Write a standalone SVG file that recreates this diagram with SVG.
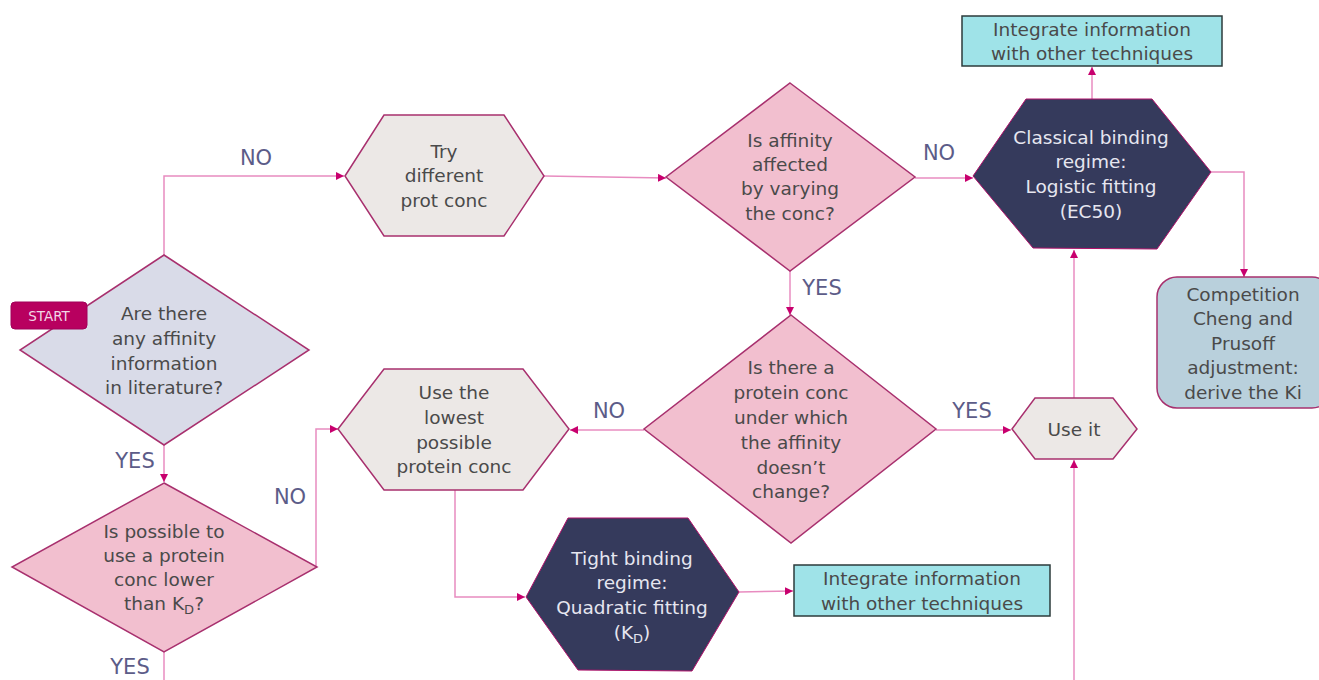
<svg xmlns="http://www.w3.org/2000/svg" width="1319" height="680" viewBox="0 0 1319 680">
  <style>
    .t { font-family: "DejaVu Sans", Verdana, sans-serif; font-size: 18.5px; fill: #4a4a4a; text-anchor: middle; }
    .tw { font-family: "DejaVu Sans", Verdana, sans-serif; font-size: 18.5px; fill: #e6e6f0; text-anchor: middle; }
    .lbl { font-family: "DejaVu Sans", Verdana, sans-serif; font-size: 21px; fill: #5c5c88; text-anchor: middle; }
    .conn { fill: none; stroke: #e88cc0; stroke-width: 1.5; }
    .dec-pink { fill: #f2bfcf; stroke: #a8306e; stroke-width: 1.5; }
    .dec-grey { fill: #d9dbe8; stroke: #a8306e; stroke-width: 1.5; }
    .proc { fill: #ece8e6; stroke: #a8306e; stroke-width: 1.5; }
    .dark { fill: #353a5c; stroke: #b0106a; stroke-width: 1; }
    .info { fill: #9fe3e8; stroke: #2d3b3b; stroke-width: 1.5; }
    .comp { fill: #b9d0dc; stroke: #a8306e; stroke-width: 1.5; }
  </style>
  <defs>
    <marker id="arr" viewBox="0 0 10 10" refX="10" refY="5" markerWidth="8" markerHeight="8" markerUnits="userSpaceOnUse" orient="auto">
      <path d="M0,0 L10,5 L0,10 Z" fill="#c8006e"/>
    </marker>
  </defs>

  <rect width="1319" height="680" fill="#ffffff"/>

  <!-- connectors -->
  <g id="connectors">
    <polyline class="conn" points="164,255 164,176 344,176" marker-end="url(#arr)"/>
    <polyline class="conn" points="544,176 666,178" marker-end="url(#arr)"/>
    <polyline class="conn" points="915,178 973,178" marker-end="url(#arr)"/>
    <polyline class="conn" points="1092,99 1092,67" marker-end="url(#arr)"/>
    <polyline class="conn" points="1211,172 1244,172 1244,277" marker-end="url(#arr)"/>
    <polyline class="conn" points="790,271 790,315" marker-end="url(#arr)"/>
    <polyline class="conn" points="936,430 1011,430" marker-end="url(#arr)"/>
    <polyline class="conn" points="1074,398 1074,250" marker-end="url(#arr)"/>
    <polyline class="conn" points="1074,680 1074,460" marker-end="url(#arr)"/>
    <polyline class="conn" points="644,430 570,430" marker-end="url(#arr)"/>
    <polyline class="conn" points="164,445 164,482" marker-end="url(#arr)"/>
    <polyline class="conn" points="316,568 316,429 338,429" marker-end="url(#arr)"/>
    <polyline class="conn" points="455,490 455,597 525,597" marker-end="url(#arr)"/>
    <polyline class="conn" points="739,592 793,591" marker-end="url(#arr)"/>
    <polyline class="conn" points="164,652 164,680"/>
    <text class="lbl" x="256" y="165">NO</text>
    <text class="lbl" x="939" y="160">NO</text>
    <text class="lbl" x="822" y="295">YES</text>
    <text class="lbl" x="609" y="418">NO</text>
    <text class="lbl" x="972" y="418">YES</text>
    <text class="lbl" x="135" y="468">YES</text>
    <text class="lbl" x="290" y="504">NO</text>
    <text class="lbl" x="130" y="674">YES</text>
  </g>

  <!-- literature question -->
  <g id="q-literature">
    <polygon class="dec-grey" points="164,255 309,350 164,445 20,350"/>
    <text class="t" x="164" y="320">Are there</text>
    <text class="t" x="164" y="345">any affinity</text>
    <text class="t" x="164" y="370">information</text>
    <text class="t" x="164" y="394">in literature?</text>
  </g>

  <g id="start">
    <rect x="11" y="302" width="76" height="27" rx="4" fill="#b8005f" stroke="#a0005a" stroke-width="1"/>
    <text x="49" y="321" font-family="'DejaVu Sans', Verdana, sans-serif" font-size="13.5" fill="#f2d8e6" text-anchor="middle">START</text>
  </g>

  <g id="try-conc">
    <polygon class="proc" points="345,176 384,115 504,115 544,176 504,236 384,236"/>
    <text class="t" x="444" y="158">Try</text>
    <text class="t" x="444" y="182">different</text>
    <text class="t" x="444" y="207">prot conc</text>
  </g>

  <g id="q-affected">
    <polygon class="dec-pink" points="790,83 915,177 790,271 666,177"/>
    <text class="t" x="790" y="147">Is affinity</text>
    <text class="t" x="790" y="171">affected</text>
    <text class="t" x="790" y="195">by varying</text>
    <text class="t" x="790" y="220">the conc?</text>
  </g>

  <g id="classical">
    <polygon class="dark" points="973,176 1026,99 1152,99 1211,172 1157,249 1033,248"/>
    <text class="tw" x="1091" y="144">Classical binding</text>
    <text class="tw" x="1091" y="168">regime:</text>
    <text class="tw" x="1091" y="193">Logistic fitting</text>
    <text class="tw" x="1091" y="218">(EC50)</text>
  </g>

  <g id="integrate-top">
    <rect class="info" x="962" y="16" width="260" height="50"/>
    <text class="t" x="1092" y="36">Integrate information</text>
    <text class="t" x="1092" y="60">with other techniques</text>
  </g>

  <g id="competition">
    <rect class="comp" x="1157" y="277" width="175" height="131" rx="20"/>
    <text class="t" x="1243" y="301">Competition</text>
    <text class="t" x="1243" y="325">Cheng and</text>
    <text class="t" x="1243" y="350">Prusoff</text>
    <text class="t" x="1243" y="374">adjustment:</text>
    <text class="t" x="1243" y="399">derive the Ki</text>
  </g>

  <g id="q-protein-conc">
    <polygon class="dec-pink" points="791,315 936,429 791,543 644,429"/>
    <text class="t" x="791" y="374">Is there a</text>
    <text class="t" x="791" y="399">protein conc</text>
    <text class="t" x="791" y="424">under which</text>
    <text class="t" x="791" y="449">the affinity</text>
    <text class="t" x="791" y="474">doesn’t</text>
    <text class="t" x="791" y="498">change?</text>
  </g>

  <g id="use-it">
    <polygon class="proc" points="1012,429 1035,398 1113,398 1137,429 1113,459 1035,459"/>
    <text class="t" x="1074" y="436">Use it</text>
  </g>

  <g id="lowest-conc">
    <polygon class="proc" points="338,429 384,369 523,369 569,429 523,490 384,490"/>
    <text class="t" x="454" y="399">Use the</text>
    <text class="t" x="454" y="424">lowest</text>
    <text class="t" x="454" y="449">possible</text>
    <text class="t" x="454" y="473">protein conc</text>
  </g>

  <g id="q-lower-kd">
    <polygon class="dec-pink" points="164,483 317,567 164,652 12,567"/>
    <text class="t" x="164" y="538">Is possible to</text>
    <text class="t" x="164" y="562">use a protein</text>
    <text class="t" x="164" y="586">conc lower</text>
    <text class="t" x="164" y="610">than K<tspan font-size="13" dy="4">D</tspan><tspan dy="-4">?</tspan></text>
  </g>

  <g id="tight">
    <polygon class="dark" points="526,597 568,518 688,518 739,592 692,671 578,670"/>
    <text class="tw" x="632" y="565">Tight binding</text>
    <text class="tw" x="632" y="589">regime:</text>
    <text class="tw" x="632" y="614">Quadratic fitting</text>
    <text class="tw" x="632" y="639">(K<tspan font-size="13" dy="4">D</tspan><tspan dy="-4">)</tspan></text>
  </g>

  <g id="integrate-bottom">
    <rect class="info" x="794" y="565" width="256" height="51"/>
    <text class="t" x="922" y="585">Integrate information</text>
    <text class="t" x="922" y="610">with other techniques</text>
  </g>
</svg>
